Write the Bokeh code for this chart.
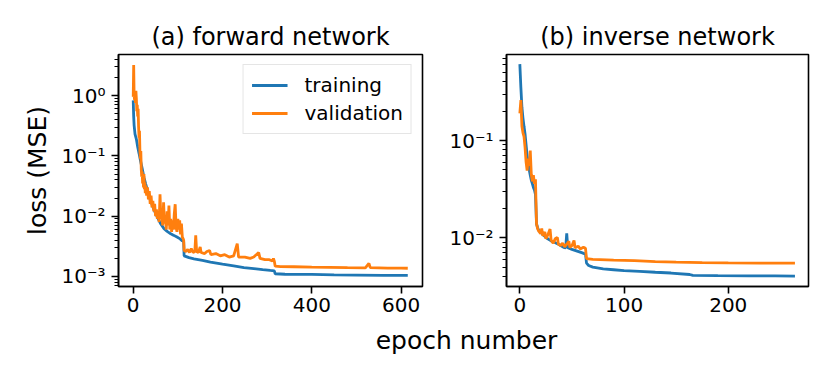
from bokeh.plotting import figure
from bokeh.models import Range1d, Legend, LegendItem, CustomJSTickFormatter, FixedTicker, Label
from bokeh.layouts import row, column
from bokeh.embed import file_html
from bokeh.resources import INLINE

# ---------------- data ----------------
train_a_epoch = [0, 1, 2, 4, 7, 10, 13, 16, 20, 24, 28, 33, 39, 46, 54, 61, 69, 76, 84, 91,
                 98, 105, 110, 113, 114, 125, 136, 155, 173, 200, 225, 248, 270, 290, 307, 316,
                 318, 340, 400, 450, 500, 560, 615]
train_a_loss = [0.83, 0.45, 0.32, 0.23, 0.19, 0.14, 0.11, 0.085, 0.062, 0.044, 0.034, 0.025,
                0.018, 0.013, 0.0096, 0.0076, 0.0062, 0.0056, 0.0051, 0.0048, 0.0045, 0.0042,
                0.0039, 0.0038, 0.0022, 0.00205, 0.00196, 0.00185, 0.00173, 0.0016, 0.0015,
                0.0014, 0.00135, 0.0013, 0.00126, 0.00124, 0.00111, 0.00109, 0.00108, 0.00106,
                0.00105, 0.00104, 0.00104]

val_a_epoch = [0, 1, 2, 3, 4, 5, 6, 7, 8, 9, 10, 11, 12, 13, 14, 15, 16, 17, 18, 19, 20, 21,
               22, 23, 24, 25, 26, 27, 28, 30, 32, 34, 36, 38, 40, 42, 44, 46, 48, 50, 52, 54,
               56, 58, 60, 62, 64, 66, 68, 70, 72, 74, 76, 78, 80, 82, 84, 86, 88, 90, 92, 94,
               96, 98, 100, 102, 104, 106, 108, 110, 112, 113, 114, 118, 122, 126, 130, 134,
               138, 140, 142, 146, 150, 152, 160, 165, 171, 174, 185, 195, 205, 215, 225, 233,
               236, 250, 262, 270, 281, 284, 295, 305, 312, 314, 316, 318, 330, 360, 400, 440,
               480, 520, 528, 531, 570, 600, 615]
val_a_loss = [0.95, 3.2, 1.0, 0.85, 1.1, 0.75, 1.2, 0.9, 0.55, 0.7, 0.45, 0.6, 0.3, 0.2, 0.26,
              0.12, 0.09, 0.12, 0.06, 0.045, 0.055, 0.035, 0.045, 0.03, 0.05, 0.028, 0.036,
              0.024, 0.032, 0.022, 0.03, 0.019, 0.026, 0.016, 0.022, 0.014, 0.018, 0.012, 0.016,
              0.010, 0.013, 0.009, 0.012, 0.008, 0.023, 0.009, 0.011, 0.007, 0.017, 0.0075,
              0.010, 0.006, 0.012, 0.007, 0.015, 0.006, 0.009, 0.0055, 0.0085, 0.006, 0.011,
              0.0158, 0.0065, 0.0055, 0.009, 0.006, 0.0085, 0.005, 0.0075, 0.0045, 0.0042,
              0.004, 0.0027, 0.0026, 0.0028, 0.0025, 0.0029, 0.0025, 0.0026, 0.0048, 0.0026,
              0.0025, 0.0031, 0.0025, 0.0024, 0.0026, 0.0027, 0.0023, 0.0024, 0.0022, 0.0023,
              0.0021, 0.0022, 0.0035, 0.0021, 0.0021, 0.0020, 0.0021, 0.0025, 0.0020, 0.0019,
              0.0019, 0.0018, 0.0020, 0.0018, 0.00148, 0.00146, 0.00145, 0.00143, 0.00142,
              0.00140, 0.00139, 0.00165, 0.00140, 0.00138, 0.00138, 0.00137]

train_b_epoch = [0, 1, 2, 3, 4, 5, 6, 7, 8, 9, 10, 11, 12, 13, 14, 15, 16, 17, 18, 20, 23, 26,
                 30, 34, 38, 42, 44, 45, 46, 50, 55, 60, 63, 64, 66, 70, 80, 90, 100, 115, 130,
                 145, 163, 166, 190, 220, 245, 264]
train_b_loss = [0.61, 0.35, 0.22, 0.17, 0.14, 0.117, 0.09, 0.07, 0.058, 0.05, 0.044, 0.039,
                0.036, 0.033, 0.031, 0.028, 0.0139, 0.0128, 0.012, 0.0114, 0.0106, 0.0099,
                0.0093, 0.0089, 0.0085, 0.008, 0.0079, 0.0111, 0.0079, 0.0076, 0.0073, 0.0070,
                0.0068, 0.0055, 0.0052, 0.0050, 0.0048, 0.0047, 0.0046, 0.00452, 0.00443,
                0.00435, 0.0042, 0.00411, 0.00409, 0.00407, 0.00406, 0.00405]

val_b_epoch = [0, 1, 2, 3, 4, 5, 6, 7, 8, 9, 10, 11, 12, 13, 14, 15, 16, 17, 18, 20, 21, 22,
               24, 25, 27, 29, 30, 32, 34, 36, 37, 39, 41, 43, 45, 47, 48, 50, 52, 53, 56, 58,
               61, 63, 64, 70, 90, 110, 130, 150, 175, 200, 230, 264]
val_b_loss = [0.19, 0.26, 0.14, 0.12, 0.11, 0.085, 0.06, 0.049, 0.065, 0.055, 0.079, 0.045,
              0.038, 0.044, 0.036, 0.04, 0.0139, 0.0125, 0.0118, 0.011, 0.0125, 0.0105, 0.0115,
              0.0098, 0.0108, 0.0123, 0.0095, 0.0088, 0.0098, 0.0101, 0.0086, 0.0083, 0.0088,
              0.0081, 0.0086, 0.0092, 0.008, 0.0083, 0.0094, 0.0079, 0.0082, 0.0077, 0.008,
              0.0078, 0.0061, 0.0060, 0.0059, 0.00582, 0.0057, 0.00563, 0.00556, 0.00553,
              0.0055, 0.0055]

series_labels = ["training", "validation"]
titles = ["(a) forward network", "(b) inverse network"]
x_label = "epoch number"
y_label = "loss (MSE)"
x_ticks_a = [0, 200, 400, 600]
x_ticks_b = [0, 100, 200]
y_ticks_a = [1e-3, 1e-2, 1e-1, 1e0]
y_ticks_b = [1e-2, 1e-1]

# ---------------- styling ----------------
FONT = "DejaVu Sans"
BLUE = "#1f77b4"
ORANGE = "#ff7f0e"

SUP_JS = """
const m = {'0':'\u2070','1':'\u00b9','2':'\u00b2','3':'\u00b3','4':'\u2074','5':'\u2075',
           '6':'\u2076','7':'\u2077','8':'\u2078','9':'\u2079','-':'\u207b'};
const e = Math.round(Math.log10(tick));
return '10' + String(e).split('').map(c => m[c]).join('');
"""


def minor_log(lo_exp, hi_exp):
    out = []
    for e in range(lo_exp, hi_exp + 1):
        for k in range(2, 10):
            out.append(k * 10.0 ** e)
    return out


def style(p, title, xticks, yticks, yminor):
    p.title.text = title
    p.title.text_font = FONT
    p.title.text_font_size = "24px"
    p.title.text_font_style = "normal"
    p.title.align = "center"
    p.title.text_color = "black"
    p.title.standoff = 7
    p.outline_line_color = "black"
    p.outline_line_width = 1.6
    p.grid.visible = False
    p.background_fill_color = "white"
    p.border_fill_color = "white"
    for ax in (p.xaxis[0], p.yaxis[0]):
        ax.axis_line_color = "black"
        ax.axis_line_width = 1.6
        ax.major_tick_line_color = "black"
        ax.major_tick_line_width = 1.6
        ax.major_tick_out = 7
        ax.major_tick_in = 0
        ax.minor_tick_line_color = "black"
        ax.minor_tick_line_width = 1.2
        ax.minor_tick_out = 4
        ax.minor_tick_in = 0
        ax.major_label_text_font = FONT
        ax.major_label_text_font_size = "20px"
        ax.major_label_text_color = "black"
        ax.axis_label_text_font = FONT
        ax.axis_label_text_font_size = "25px"
        ax.axis_label_text_font_style = "normal"
        ax.axis_label_text_color = "black"
    p.xaxis[0].ticker = FixedTicker(ticks=xticks)
    p.xaxis[0].minor_tick_line_color = None
    p.xaxis[0].major_label_standoff = 4
    p.yaxis[0].ticker = FixedTicker(ticks=yticks, minor_ticks=yminor)
    p.yaxis[0].formatter = CustomJSTickFormatter(code=SUP_JS)
    p.yaxis[0].major_label_standoff = 6


# left panel
p1 = figure(width=430, height=322, y_axis_type="log",
            x_range=Range1d(-33, 648), y_range=Range1d(10 ** -3.166, 10 ** 0.68),
            toolbar_location=None, output_backend="svg",
            min_border_left=118, min_border_right=8, min_border_top=54, min_border_bottom=36)
r1 = p1.line(train_a_epoch, train_a_loss, line_color=BLUE, line_width=2.8)
r2 = p1.line(val_a_epoch, val_a_loss, line_color=ORANGE, line_width=2.8)
style(p1, titles[0], x_ticks_a, y_ticks_a, minor_log(-4, 0))
p1.yaxis[0].axis_label = y_label
p1.yaxis[0].axis_label_standoff = 6

legend = Legend(items=[LegendItem(label=series_labels[0], renderers=[r1]),
                       LegendItem(label=series_labels[1], renderers=[r2])],
                location="top_right", margin=10, padding=8, spacing=4,
                glyph_width=36, glyph_height=20, label_height=20, label_standoff=17,
                label_text_font=FONT, label_text_font_size="20px", label_text_color="black",
                border_line_color="#cccccc", border_line_width=1.2,
                background_fill_color="white", background_fill_alpha=0.8)
p1.add_layout(legend)

# right panel
p2 = figure(width=392, height=322, y_axis_type="log",
            x_range=Range1d(-12.8, 277), y_range=Range1d(10 ** -2.5, 10 ** -0.116),
            toolbar_location=None, output_backend="svg",
            min_border_left=76, min_border_right=14, min_border_top=54, min_border_bottom=36)
p2.line(train_b_epoch, train_b_loss, line_color=BLUE, line_width=2.8)
p2.line(val_b_epoch, val_b_loss, line_color=ORANGE, line_width=2.8)
style(p2, titles[1], x_ticks_b, y_ticks_b, minor_log(-3, -1))

# shared x label
p3 = figure(width=822, height=38, x_range=Range1d(0, 822), y_range=Range1d(0, 38),
            toolbar_location=None, output_backend="svg",
            x_axis_location=None, y_axis_location=None, min_border=0)
p3.grid.visible = False
p3.outline_line_color = None
p3.add_layout(Label(x=466, y=20, text=x_label, text_align="center",
                    text_baseline="alphabetic", text_font=FONT, text_font_size="25px",
                    text_color="black"))

layout = column(row(p1, p2), p3)
open("out.html", "w").write(file_html(layout, INLINE))
